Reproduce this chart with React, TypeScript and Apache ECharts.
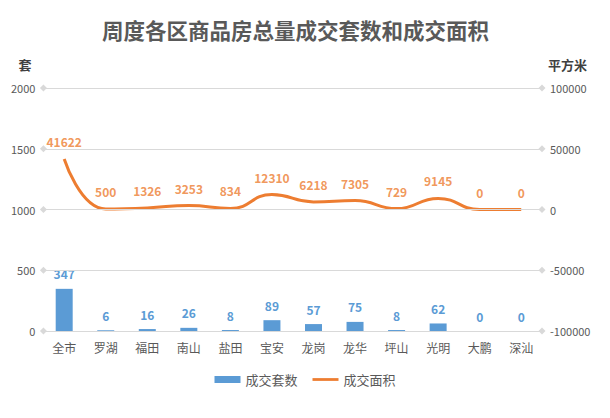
import React, { useEffect, useRef } from "react";
import * as echarts from "echarts";

const categories = ["全市", "罗湖", "福田", "南山", "盐田", "宝安", "龙岗", "龙华", "坪山", "光明", "大鹏", "深汕"];
const unitCounts = [347, 6, 16, 26, 8, 89, 57, 75, 8, 62, 0, 0];
const areaValues = [41622, 500, 1326, 3253, 834, 12310, 6218, 7305, 729, 9145, 0, 0];
const leftTicks = [0, 500, 1000, 1500, 2000];

const FONT = "'Noto Sans CJK SC', 'Microsoft YaHei', sans-serif";
const BLUE = "#5B9BD5";
const ORANGE = "#ED7D31";

export default function App() {
  const ref = useRef<HTMLDivElement>(null);
  useEffect(() => {
    if (!ref.current) return;
    const chart = echarts.init(ref.current, null, { renderer: "svg" });
    chart.setOption({
      animation: false,
      backgroundColor: "#ffffff",
      textStyle: { fontFamily: FONT },
      title: {
        text: "周度各区商品房总量成交套数和成交面积",
        left: 89,
        top: 6,
        textStyle: { fontSize: 21.5, fontWeight: "bold", color: "#595959", fontFamily: FONT },
      },
      legend: {
        top: 360,
        left: "center",
        itemWidth: 26,
        itemHeight: 7,
        itemGap: 15,
        symbolKeepAspect: true,
        textStyle: { fontSize: 13, color: "#595959", fontFamily: FONT },
        data: [
          { name: "成交套数", icon: "rect" },
          { name: "成交面积", icon: "path://M0,0h28v3h-28z", itemStyle: { color: ORANGE } },
        ],
      },
      grid: { left: 34, right: 60, top: 80, bottom: 79, containLabel: false },
      xAxis: {
        type: "category",
        data: categories,
        axisLine: { lineStyle: { color: "#d0d0d0" } },
        axisTick: { show: false },
        axisLabel: { fontSize: 12, color: "#595959", margin: 10, fontFamily: FONT },
      },
      yAxis: [
        {
          type: "value",
          min: 0,
          max: 2000,
          interval: 500,
          name: "套",
          nameLocation: "end",
          nameGap: 17,
          nameTextStyle: {
            fontSize: 13,
            fontWeight: "bold",
            color: "#404040",
            align: "right",
            padding: [0, 12, 0, 0],
            fontFamily: FONT,
          },
          axisLine: { show: false },
          axisTick: { show: false },
          axisLabel: { fontSize: 11, color: "#595959", margin: 8, formatter: (v: number) => String(v) },
          splitLine: { lineStyle: { color: "#d9d9d9" } },
        },
        {
          type: "value",
          min: -100000,
          max: 100000,
          interval: 50000,
          name: "平方米",
          nameLocation: "end",
          nameGap: 17,
          nameTextStyle: {
            fontSize: 13,
            fontWeight: "bold",
            color: "#404040",
            align: "left",
            padding: [0, 0, 0, 6],
            fontFamily: FONT,
          },
          axisLine: { show: false },
          axisTick: { show: false },
          axisLabel: { fontSize: 11, color: "#595959", margin: 8, formatter: (v: number) => String(v) },
          splitLine: { show: false },
        },
      ],
      series: [
        {
          name: "成交套数",
          type: "bar",
          yAxisIndex: 0,
          data: unitCounts,
          barWidth: 17,
          itemStyle: { color: BLUE },
          label: {
            show: true,
            position: "top",
            distance: 9,
            fontSize: 12,
            fontWeight: "bold",
            color: BLUE,
          },
          markLine: {
            silent: true,
            symbol: ["diamond", "diamond"],
            symbolSize: 7,
            label: { show: false },
            lineStyle: { color: "#d9d9d9", type: "solid", width: 1 },
            itemStyle: { color: "#c8c8c8" },
            emphasis: { disabled: true },
            data: leftTicks.map((v) => ({ yAxis: v })),
          },
        },
        {
          name: "成交面积",
          type: "line",
          yAxisIndex: 1,
          data: areaValues,
          smooth: 0.5,
          symbol: "none",
          lineStyle: { color: ORANGE, width: 3 },
          itemStyle: { color: ORANGE },
          z: 3,
        },
        {
          name: "面积标签",
          type: "scatter",
          yAxisIndex: 1,
          data: areaValues,
          symbolSize: 1,
          itemStyle: { color: "rgba(0,0,0,0)" },
          silent: true,
          label: {
            show: true,
            position: "top",
            distance: 11,
            fontSize: 12,
            fontWeight: "bold",
            color: ORANGE,
          },
          z: 4,
        },
      ],
    });
    return () => chart.dispose();
  }, []);
  return <div ref={ref} style={{ width: 594, height: 402 }} />;
}
